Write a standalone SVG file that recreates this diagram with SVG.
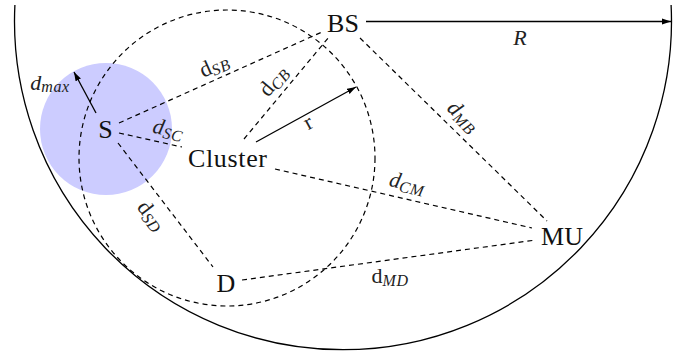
<svg xmlns="http://www.w3.org/2000/svg" width="694" height="352" viewBox="0 0 694 352">
<style>
.node{font-family:"Liberation Serif","Times New Roman",serif;font-size:26px;fill:#111;text-anchor:middle}
.lab{font-family:"Liberation Serif","Times New Roman",serif;font-size:22px;fill:#222;text-anchor:middle}
.it{font-style:italic}
.sub{font-size:16px;font-style:italic;letter-spacing:0.6px}
.dash{fill:none;stroke:#000;stroke-width:1.2;stroke-dasharray:5 4}
.solid{fill:none;stroke:#000;stroke-width:1.3}
</style>
<defs>
<marker id="ah" markerUnits="userSpaceOnUse" markerWidth="10" markerHeight="7" refX="9" refY="3.5" orient="auto">
<path d="M0,0.5 L9,3.5 L0,6.5 z" fill="#000"/>
</marker>
</defs>
<rect width="694" height="352" fill="#fff"/>
<g id="coverage">
<circle cx="106" cy="129" r="66" fill="#ccccff"/>
</g>
<g id="outer-region">
<path class="solid" d="M14.9 5 A328.5 328.5 0 1 0 671.1 5"/>
</g>
<g id="cluster-region">
<circle class="dash" cx="227" cy="158" r="148"/>
</g>
<g id="connectors">
<line class="dash" x1="119" y1="123" x2="322" y2="32"/>
<line class="dash" x1="119" y1="133" x2="182" y2="147"/>
<line class="dash" x1="118" y1="143" x2="213" y2="267"/>
<line class="dash" x1="244" y1="139" x2="329" y2="37"/>
<line class="dash" x1="360" y1="38" x2="547" y2="221"/>
<line class="dash" x1="275" y1="169" x2="532" y2="228"/>
<line class="dash" x1="242" y1="280" x2="536" y2="240"/>
<line class="solid" x1="256" y1="142" x2="356" y2="87" marker-end="url(#ah)"/>
<line class="solid" x1="96" y1="113" x2="74" y2="72" marker-end="url(#ah)"/>
<line class="solid" x1="366" y1="21.5" x2="671" y2="21.5" marker-end="url(#ah)"/>
<text class="lab" x="50" y="90"><tspan class="it">d</tspan><tspan class="sub" dy="2">max</tspan></text>
<text class="lab" transform="translate(215,67) rotate(-24)" x="0" y="5"><tspan>d</tspan><tspan class="sub" dy="3">SB</tspan></text>
<text class="lab" transform="translate(275,82) rotate(-50)" x="0" y="5"><tspan>d</tspan><tspan class="sub" dy="3">CB</tspan></text>
<text class="lab" transform="translate(168,131) rotate(12.5)" x="0" y="5"><tspan class="it">d</tspan><tspan class="sub" dy="3">SC</tspan></text>
<text class="lab" transform="translate(309,124) rotate(-29)" x="0" y="5">r</text>
<text class="lab" transform="translate(462,118) rotate(44.4)" x="0" y="5"><tspan class="it">d</tspan><tspan class="sub" dy="3">MB</tspan></text>
<text class="lab" transform="translate(407,185) rotate(12.9)" x="0" y="5"><tspan class="it">d</tspan><tspan class="sub" dy="3">CM</tspan></text>
<text class="lab" transform="translate(150,217) rotate(52.5)" x="0" y="5"><tspan>d</tspan><tspan class="sub" dy="3">SD</tspan></text>
<text class="lab" x="390" y="283"><tspan>d</tspan><tspan class="sub" dy="3">MD</tspan></text>
<text class="lab it" x="520" y="45">R</text>
</g>
<g id="node-S"><text class="node" x="105.5" y="138">S</text></g>
<g id="node-BS"><text class="node" x="343" y="32">BS</text></g>
<g id="node-Cluster"><text class="node" x="227.5" y="167" textLength="79" lengthAdjust="spacing">Cluster</text></g>
<g id="node-D"><text class="node" x="226" y="292">D</text></g>
<g id="node-MU"><text class="node" x="562" y="245">MU</text></g>
</svg>
